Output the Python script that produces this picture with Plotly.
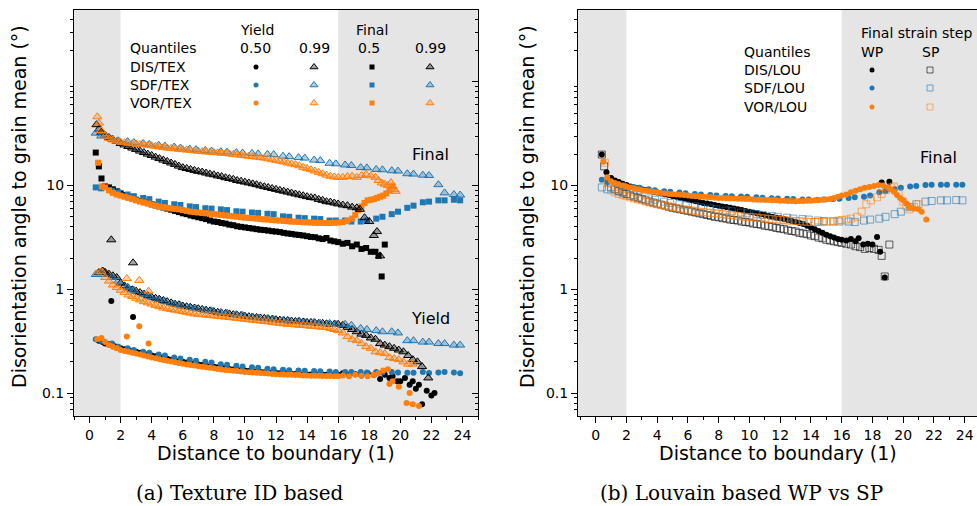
import plotly.graph_objects as go

W, H = 977, 506

# ---------------- data ----------------
DENSE_X = [1.0, 1.25, 1.5, 1.75, 2.0, 2.25, 2.5, 2.75,
           3.0, 3.25, 3.5, 3.75, 4.0, 4.25, 4.5, 4.75,
           5.0, 5.25, 5.5, 5.75, 6.0, 6.25, 6.5, 6.75,
           7.0, 7.25, 7.5, 7.75, 8.0, 8.25, 8.5, 8.75,
           9.0, 9.25, 9.5, 9.75, 10.0, 10.25, 10.5, 10.75,
           11.0, 11.25, 11.5, 11.75, 12.0, 12.25, 12.5, 12.75,
           13.0, 13.25, 13.5, 13.75, 14.0, 14.25, 14.5, 14.75,
           15.0, 15.25, 15.5, 15.75, 16.0]

SDF_X = [0.4, 0.75, 1.45, 1.85, 2.45, 2.85, 3.45, 3.85,
         4.45, 4.85, 5.45, 5.85, 6.45, 6.85, 7.45, 7.85,
         8.45, 8.85, 9.45, 9.85, 10.45, 10.85, 11.45, 11.85,
         12.45, 12.85, 13.45, 13.85, 14.45, 14.85, 15.45, 15.85,
         16.45, 16.85, 17.45, 17.85, 18.45, 18.85, 19.45, 19.85,
         20.45, 20.85, 21.45, 21.85, 22.45, 22.85, 23.45, 23.85]

# ---- (a) Texture ID based ----
# Final, 0.99 quantile
FIN99_DIS = [30.5, 29.0, 27.8, 26.7, 25.5, 24.6, 23.8, 23.0,
             22.3, 21.5, 20.8, 20.1, 19.5, 18.8, 18.2, 17.6,
             17.1, 16.5, 16.0, 15.4, 14.9, 14.6, 14.3, 14.0,
             13.7, 13.5, 13.2, 12.9, 12.7, 12.4, 12.2, 11.9,
             11.7, 11.5, 11.2, 11.0, 10.8, 10.6, 10.4, 10.2,
             9.95, 9.75, 9.57, 9.37, 9.19, 9.0, 8.83, 8.65,
             8.47, 8.3, 8.14, 7.98, 7.82, 7.66, 7.6, 7.36,
             7.21, 7.0, 6.93, 6.79, 6.65]
FIN99_DIS_EX_X = [0.45, 0.6, 0.75, 16.3, 16.6, 16.9, 17.2, 17.4, 17.7, 18.0, 18.3, 18.5, 18.7]
FIN99_DIS_EX_Y = [38.6, 35.0, 32.5, 6.5, 6.4, 6.2, 6.1, 5.9, 4.9, 4.5, 3.3, 3.6, 2.1]

FIN99_VOR = [30.0, 28.5, 27.5, 26.8, 26.3, 25.9, 25.6, 25.3,
             25.1, 24.9, 24.7, 24.5, 24.2, 23.9, 23.6, 23.3,
             23.0, 22.8, 22.6, 22.4, 22.2, 22.0, 21.8, 21.6,
             21.4, 21.3, 21.1, 21.0, 20.8, 20.7, 20.5, 20.4,
             20.2, 20.0, 19.8, 19.6, 19.4, 19.2, 19.0, 18.8,
             18.6, 18.4, 18.1, 17.8, 17.5, 17.2, 16.9, 16.5,
             16.2, 15.9, 15.5, 15.0, 14.6, 14.2, 13.8, 13.4,
             13.0, 12.6, 12.3, 12.1, 12.0]
FIN99_VOR_EX_X = [0.5, 0.6, 0.75, 16.3, 16.6, 16.9, 17.2, 17.5, 17.8, 18.1, 18.4, 18.6,
                  18.8, 19.0, 19.2, 19.4, 19.5, 19.6, 19.7]
FIN99_VOR_EX_Y = [46.0, 40.0, 34.0, 12.0, 12.2, 12.3, 12.0, 12.5, 12.8, 12.4, 12.0, 11.2,
                  10.6, 10.3, 10.0, 10.7, 9.8, 9.2, 8.8]

FIN99_SDF = [32.0, 30.0, 28.0, 27.0, 26.5, 26.0, 25.5, 25.0,
             24.5, 24.0, 23.5, 23.0, 22.5, 22.2, 21.8, 21.5,
             21.2, 21.0, 20.8, 20.6, 20.4, 20.2, 20.0, 19.9,
             19.2, 19.0, 18.6, 18.4, 17.6, 17.4, 16.4, 16.2,
             15.8, 15.6, 14.9, 14.8, 14.3, 14.2, 13.9, 13.8,
             13.0, 12.9, 12.6, 12.5, 10.2, 8.5, 8.2, 8.1]

# Final, 0.5 quantile
FIN50_DIS = [9.8, 9.6, 9.2, 8.8, 8.4, 8.1, 7.8, 7.5,
             7.3, 7.1, 6.95, 6.8, 6.6, 6.45, 6.3, 6.15,
             6.0, 5.85, 5.7, 5.55, 5.4, 5.3, 5.15, 5.05,
             4.95, 4.85, 4.75, 4.6, 4.5, 4.45, 4.35, 4.3,
             4.2, 4.15, 4.05, 4.0, 3.95, 3.9, 3.85, 3.8,
             3.75, 3.72, 3.68, 3.63, 3.6, 3.56, 3.5, 3.45,
             3.42, 3.37, 3.34, 3.3, 3.25, 3.2, 3.18, 3.1,
             3.05, 3.12, 2.95, 2.9, 2.85]
FIN50_DIS_EX_X = [0.4, 0.6, 0.77, 16.3, 16.6, 16.9, 17.2, 17.5, 17.8, 18.1, 18.4, 18.6, 18.8, 19.0]
FIN50_DIS_EX_Y = [20.8, 15.3, 11.7, 2.75, 2.8, 2.6, 2.7, 2.45, 2.5, 2.3, 2.3, 2.1, 1.33, 2.7]

FIN50_VOR = [9.6, 9.0, 8.5, 8.2, 8.0, 7.8, 7.6, 7.4,
             7.2, 7.0, 6.85, 6.7, 6.55, 6.4, 6.3, 6.2,
             6.1, 6.0, 5.95, 5.9, 5.8, 5.7, 5.6, 5.55,
             5.5, 5.45, 5.4, 5.35, 5.3, 5.25, 5.2, 5.15,
             5.1, 5.05, 5.0, 4.95, 4.9, 4.88, 4.85, 4.8,
             4.75, 4.72, 4.7, 4.65, 4.62, 4.6, 4.56, 4.53,
             4.5, 4.48, 4.46, 4.44, 4.42, 4.4, 4.38, 4.37,
             4.36, 4.35, 4.35, 4.38, 4.4]
FIN50_VOR_EX_X = [0.55, 0.8, 16.3, 16.6, 16.9, 17.1, 17.3, 17.5, 17.7, 17.9, 18.1, 18.3,
                  18.5, 18.7, 18.9, 19.1, 19.3, 19.5]
FIN50_VOR_EX_Y = [16.6, 9.8, 4.45, 4.6, 4.8, 5.2, 5.8, 6.3, 6.8, 7.2, 7.3, 7.4,
                  7.6, 7.8, 8.0, 8.4, 9.0, 9.8]

FIN50_SDF = [9.6, 9.4, 8.9, 8.6, 8.2, 7.9, 7.6, 7.4,
             7.0, 6.8, 6.6, 6.5, 6.3, 6.2, 6.05, 6.0,
             5.9, 5.8, 5.65, 5.6, 5.5, 5.45, 5.35, 5.3,
             5.05, 5.0, 4.9, 4.85, 4.8, 4.75, 4.6, 4.6,
             4.6, 4.5, 4.5, 4.6, 4.8, 5.0, 5.3, 5.6,
             6.1, 6.4, 6.9, 7.0, 7.2, 7.2, 7.3, 7.2]

# Yield, 0.99 quantile
Y99_DIS = [1.46, 1.4, 1.35, 1.3, 1.15, 1.08, 1.03, 0.99,
           0.96, 0.93, 0.9, 0.87, 0.84, 0.82, 0.8, 0.78,
           0.76, 0.74, 0.72, 0.71, 0.69, 0.68, 0.67, 0.66,
           0.65, 0.64, 0.63, 0.62, 0.61, 0.6, 0.59, 0.585,
           0.58, 0.57, 0.565, 0.56, 0.55, 0.545, 0.54, 0.535,
           0.53, 0.525, 0.52, 0.515, 0.51, 0.505, 0.5, 0.5,
           0.495, 0.49, 0.49, 0.485, 0.48, 0.48, 0.475, 0.47,
           0.47, 0.465, 0.46, 0.46, 0.46]
Y99_DIS_EX_X = [0.6, 0.85, 1.4, 2.8, 16.3, 16.6, 16.9, 17.2, 17.5, 17.8, 18.1, 18.4,
                18.7, 19.0, 19.3, 19.6, 19.9, 20.2, 20.5, 20.8, 21.1, 21.4, 21.8]
Y99_DIS_EX_Y = [1.45, 1.5, 3.0, 1.8, 0.45, 0.43, 0.41, 0.39, 0.37, 0.36, 0.34, 0.33,
                0.3, 0.29, 0.28, 0.27, 0.26, 0.25, 0.23, 0.21, 0.2, 0.18, 0.14]

Y99_VOR = [1.3, 1.2, 1.1, 1.04, 0.98, 0.93, 0.88, 0.85,
           0.82, 0.79, 0.76, 0.74, 0.72, 0.7, 0.68, 0.66,
           0.65, 0.64, 0.63, 0.62, 0.61, 0.6, 0.59, 0.58,
           0.575, 0.57, 0.565, 0.56, 0.555, 0.55, 0.545, 0.54,
           0.535, 0.53, 0.525, 0.52, 0.515, 0.51, 0.505, 0.5,
           0.495, 0.49, 0.485, 0.48, 0.475, 0.47, 0.465, 0.46,
           0.46, 0.455, 0.45, 0.45, 0.445, 0.44, 0.44, 0.435,
           0.43, 0.43, 0.42, 0.41, 0.4]
Y99_VOR_EX_X = [0.5, 0.77, 2.4, 3.2, 3.8, 16.3, 16.6, 16.9, 17.2, 17.5, 17.8, 18.1,
                18.4, 18.7, 19.0, 19.3, 19.6, 19.9, 20.2, 20.5, 20.8]
Y99_VOR_EX_Y = [1.42, 1.49, 1.27, 1.22, 0.96, 0.38, 0.35, 0.33, 0.32, 0.3, 0.28, 0.27,
                0.25, 0.245, 0.24, 0.22, 0.215, 0.21, 0.2, 0.19, 0.19]

Y99_SDF = [1.39, 1.39, 1.3, 1.2, 1.05, 0.98, 0.9, 0.85,
           0.8, 0.76, 0.72, 0.7, 0.67, 0.65, 0.63, 0.62,
           0.6, 0.59, 0.57, 0.56, 0.54, 0.53, 0.52, 0.51,
           0.5, 0.49, 0.49, 0.48, 0.48, 0.47, 0.47, 0.46,
           0.46, 0.45, 0.42, 0.41, 0.4, 0.39, 0.39, 0.38,
           0.32, 0.32, 0.31, 0.31, 0.3, 0.3, 0.29, 0.29]

# Yield, 0.50 quantile
Y50_DIS = [0.3, 0.295, 0.29, 0.28, 0.27, 0.265, 0.26, 0.255,
           0.25, 0.245, 0.24, 0.235, 0.23, 0.226, 0.222, 0.218,
           0.214, 0.21, 0.207, 0.204, 0.2, 0.197, 0.194, 0.191,
           0.188, 0.186, 0.183, 0.181, 0.179, 0.177, 0.175, 0.173,
           0.171, 0.169, 0.168, 0.166, 0.165, 0.163, 0.162, 0.161,
           0.16, 0.159, 0.158, 0.157, 0.156, 0.155, 0.155, 0.154,
           0.153, 0.153, 0.152, 0.152, 0.151, 0.151, 0.15, 0.15,
           0.15, 0.15, 0.149, 0.149, 0.15]
Y50_DIS_EX_X = [0.6, 0.85, 1.4, 2.8, 16.3, 16.7, 17.1, 17.5, 17.9, 18.3, 18.7, 19.0,
                19.3, 19.5, 19.8, 20.0, 20.3, 20.6, 20.8, 21.0, 21.2, 21.4, 21.7, 22.0, 22.2]
Y50_DIS_EX_Y = [0.32, 0.31, 0.77, 0.54, 0.155, 0.15, 0.152, 0.148, 0.155, 0.15, 0.137, 0.15,
                0.14, 0.145, 0.13, 0.13, 0.14, 0.12, 0.13, 0.11, 0.12, 0.078, 0.105, 0.095, 0.1]

Y50_VOR = [0.31, 0.29, 0.28, 0.27, 0.26, 0.255, 0.25, 0.245,
           0.24, 0.235, 0.23, 0.225, 0.22, 0.216, 0.212, 0.208,
           0.205, 0.201, 0.198, 0.195, 0.192, 0.189, 0.186, 0.184,
           0.181, 0.179, 0.177, 0.175, 0.173, 0.171, 0.169, 0.167,
           0.166, 0.164, 0.163, 0.161, 0.16, 0.159, 0.158, 0.157,
           0.156, 0.155, 0.154, 0.153, 0.152, 0.151, 0.151, 0.15,
           0.15, 0.149, 0.149, 0.148, 0.148, 0.147, 0.147, 0.147,
           0.146, 0.146, 0.146, 0.145, 0.145]
Y50_VOR_EX_X = [0.5, 0.77, 2.4, 3.2, 3.8, 16.3, 16.7, 17.1, 17.5, 17.9, 18.3, 18.6,
                18.9, 19.2, 19.3, 19.5, 19.9, 20.4, 20.6, 20.8, 21.2]
Y50_VOR_EX_Y = [0.33, 0.34, 0.35, 0.44, 0.30, 0.148, 0.145, 0.15, 0.147, 0.145, 0.15, 0.155,
                0.165, 0.17, 0.122, 0.13, 0.115, 0.08, 0.1, 0.078, 0.075]

Y50_SDF = [0.33, 0.32, 0.3, 0.28, 0.27, 0.26, 0.25, 0.245,
           0.235, 0.23, 0.22, 0.215, 0.21, 0.205, 0.2, 0.197,
           0.19, 0.187, 0.183, 0.18, 0.177, 0.175, 0.172, 0.17,
           0.168, 0.166, 0.165, 0.164, 0.163, 0.162, 0.161, 0.16,
           0.16, 0.16, 0.16, 0.158, 0.16, 0.158, 0.16, 0.158,
           0.157, 0.157, 0.16, 0.156, 0.158, 0.16, 0.158, 0.155]

# ---- (b) Louvain based, WP vs SP (final strain step) ----
WP_DIS = [11.8, 11.2, 10.8, 10.4, 10.1, 9.8, 9.6, 9.4,
          9.2, 9.0, 8.85, 8.7, 8.55, 8.4, 8.25, 8.1,
          7.95, 7.8, 7.65, 7.5, 7.35, 7.2, 7.05, 6.9,
          6.8, 6.7, 6.6, 6.5, 6.4, 6.3, 6.2, 6.1,
          6.0, 5.9, 5.8, 5.7, 5.6, 5.5, 5.4, 5.3,
          5.2, 5.1, 5.0, 4.9, 4.85, 4.75, 4.65, 4.55,
          4.45, 4.35, 4.25, 4.1, 3.95, 3.8, 3.65, 3.5,
          3.35, 3.25, 3.15, 3.05, 3.0]
WP_DIS_EX_X = [0.4, 0.7, 16.3, 16.6, 16.9, 17.1, 17.4, 17.7, 18.0, 18.3, 18.5, 18.6, 18.8, 19.1]
WP_DIS_EX_Y = [19.9, 13.4, 2.95, 3.05, 2.9, 3.1, 2.7, 2.75, 2.7, 3.2, 2.3, 10.7, 1.3, 10.9]

SP_DIS = [9.6, 9.2, 8.9, 8.6, 8.3, 8.0, 7.8, 7.6,
          7.4, 7.2, 7.0, 6.85, 6.7, 6.55, 6.4, 6.25,
          6.1, 6.0, 5.9, 5.8, 5.7, 5.6, 5.5, 5.4,
          5.3, 5.2, 5.1, 5.0, 4.95, 4.85, 4.8, 4.7,
          4.65, 4.6, 4.5, 4.45, 4.4, 4.3, 4.25, 4.2,
          4.1, 4.05, 4.0, 3.9, 3.85, 3.8, 3.7, 3.65,
          3.6, 3.5, 3.45, 3.4, 3.3, 3.25, 3.15, 3.1,
          3.0, 2.95, 2.9, 2.85, 2.8]
SP_DIS_EX_X = [0.4, 0.55, 16.3, 16.6, 16.9, 17.2, 17.5, 17.8, 18.1, 18.4, 18.6, 18.8, 19.1]
SP_DIS_EX_Y = [19.9, 15.3, 2.75, 2.7, 2.6, 2.55, 2.45, 2.5, 2.45, 2.4, 2.1, 1.33, 2.7]

WP_SDF = [11.4, 10.8, 10.3, 10.0, 9.7, 9.5, 9.2, 9.0,
          8.8, 8.7, 8.55, 8.45, 8.3, 8.2, 8.1, 8.0,
          7.95, 7.9, 7.85, 7.8, 7.7, 7.65, 7.55, 7.5,
          7.45, 7.4, 7.35, 7.35, 7.3, 7.35, 7.4, 7.45,
          7.6, 7.7, 7.8, 8.0, 8.6, 8.8, 9.2, 9.5,
          9.8, 9.9, 10.1, 10.2, 10.2, 10.2, 10.2, 10.2]

SP_SDF = [9.6, 9.2, 8.8, 8.5, 8.1, 7.8, 7.5, 7.3,
          7.0, 6.8, 6.6, 6.45, 6.3, 6.15, 6.0, 5.9,
          5.75, 5.65, 5.5, 5.4, 5.3, 5.2, 5.1, 5.0,
          4.9, 4.8, 4.75, 4.7, 4.6, 4.55, 4.5, 4.5,
          4.5, 4.45, 4.6, 4.7, 4.8, 5.0, 5.3, 5.6,
          6.2, 6.6, 7.0, 7.1, 7.2, 7.2, 7.25, 7.2]

WP_VOR = [11.0, 10.6, 10.3, 10.0, 9.8, 9.6, 9.4, 9.2,
          9.05, 8.9, 8.8, 8.7, 8.6, 8.5, 8.4, 8.3,
          8.25, 8.2, 8.15, 8.1, 8.0, 7.95, 7.9, 7.85,
          7.8, 7.75, 7.7, 7.65, 7.6, 7.6, 7.55, 7.5,
          7.5, 7.45, 7.45, 7.4, 7.4, 7.35, 7.3, 7.3,
          7.25, 7.25, 7.2, 7.2, 7.15, 7.15, 7.1, 7.1,
          7.05, 7.1, 7.1, 7.15, 7.15, 7.2, 7.25, 7.3,
          7.35, 7.4, 7.6, 7.8, 8.0]
WP_VOR_EX_X = [0.5, 0.75, 16.3, 16.6, 16.9, 17.2, 17.5, 17.8, 18.1, 18.4, 18.7, 19.0,
               19.2, 19.4, 19.6, 19.8, 20.0, 20.2, 20.4, 20.7, 21.0, 21.2, 21.5]
WP_VOR_EX_Y = [17.0, 12.0, 8.2, 8.6, 8.9, 9.2, 9.5, 9.7, 9.9, 10.1, 10.0, 9.6,
               9.2, 8.7, 8.1, 7.6, 7.2, 6.7, 6.2, 6.0, 5.9, 5.6, 4.7]

SP_VOR = [9.0, 8.6, 8.3, 8.1, 7.9, 7.7, 7.5, 7.35,
          7.2, 7.05, 6.9, 6.75, 6.6, 6.5, 6.4, 6.3,
          6.2, 6.1, 6.0, 5.9, 5.8, 5.75, 5.7, 5.6,
          5.55, 5.5, 5.45, 5.4, 5.35, 5.3, 5.25, 5.2,
          5.15, 5.1, 5.05, 5.0, 4.98, 4.95, 4.9, 4.85,
          4.8, 4.78, 4.75, 4.7, 4.68, 4.65, 4.6, 4.58,
          4.55, 4.52, 4.5, 4.48, 4.46, 4.45, 4.45, 4.45,
          4.5, 4.5, 4.55, 4.6, 4.65]
SP_VOR_EX_X = [0.6, 0.8, 16.3, 16.6, 17.0, 17.3, 17.6, 17.9, 18.3, 18.6, 18.9, 19.2,
               19.4, 19.7, 20.0, 20.2, 20.4, 20.7, 21.0]
SP_VOR_EX_Y = [16.6, 10.5, 4.7, 4.8, 5.0, 5.6, 6.6, 7.2, 7.7, 8.3, 9.1, 9.6,
               9.8, 8.5, 7.0, 6.3, 5.9, 6.2, 6.6]

X_TICKS = [0, 2, 4, 6, 8, 10, 12, 14, 16, 18, 20, 22, 24]
Y_TICKS = [0.1, 1, 10]
Y_TICK_TEXT = ["0.1", "1", "10"]

# ---------------- style ----------------
BLACK = "#000000"
BLUE = "#1f77b4"
ORANGE = "#ff7f0e"
GREY_BG = "#e5e5e5"
FONT = "DejaVu Sans"


def rgba(hexc, a):
    h = hexc.lstrip("#")
    r, g, b = int(h[0:2], 16), int(h[2:4], 16), int(h[4:6], 16)
    return f"rgba({r},{g},{b},{a})"


def style(kind, c):
    if kind == "circle":
        return dict(symbol="circle", size=6, color=c, line=dict(width=0))
    if kind == "square":
        return dict(symbol="square", size=6, color=c, line=dict(width=0))
    if kind == "tri":
        return dict(symbol="triangle-up", size=8, color=rgba(c, 0.35),
                    line=dict(width=1, color=c))
    if kind == "osquare":
        return dict(symbol="square-open", size=7, color=rgba(c, 0.6),
                    line=dict(width=1, color=rgba(c, 0.6)))


fig = go.Figure()


def add(xa, ya, x, y, kind, c):
    fig.add_trace(go.Scatter(x=x, y=y, mode="markers", xaxis=xa, yaxis=ya,
                             marker=style(kind, c), showlegend=False,
                             hoverinfo="skip", cliponaxis=True))


# panel (a)
add("x", "y", DENSE_X + Y50_DIS_EX_X, Y50_DIS + Y50_DIS_EX_Y, "circle", BLACK)
add("x", "y", SDF_X, Y50_SDF, "circle", BLUE)
add("x", "y", DENSE_X + Y50_VOR_EX_X, Y50_VOR + Y50_VOR_EX_Y, "circle", ORANGE)
add("x", "y", DENSE_X + Y99_DIS_EX_X, Y99_DIS + Y99_DIS_EX_Y, "tri", BLACK)
add("x", "y", SDF_X, Y99_SDF, "tri", BLUE)
add("x", "y", DENSE_X + Y99_VOR_EX_X, Y99_VOR + Y99_VOR_EX_Y, "tri", ORANGE)
add("x", "y", DENSE_X + FIN50_DIS_EX_X, FIN50_DIS + FIN50_DIS_EX_Y, "square", BLACK)
add("x", "y", SDF_X, FIN50_SDF, "square", BLUE)
add("x", "y", DENSE_X + FIN50_VOR_EX_X, FIN50_VOR + FIN50_VOR_EX_Y, "square", ORANGE)
add("x", "y", DENSE_X + FIN99_DIS_EX_X, FIN99_DIS + FIN99_DIS_EX_Y, "tri", BLACK)
add("x", "y", SDF_X, FIN99_SDF, "tri", BLUE)
add("x", "y", DENSE_X + FIN99_VOR_EX_X, FIN99_VOR + FIN99_VOR_EX_Y, "tri", ORANGE)

# panel (b)
add("x2", "y2", DENSE_X + WP_DIS_EX_X, WP_DIS + WP_DIS_EX_Y, "circle", BLACK)
add("x2", "y2", DENSE_X + SP_DIS_EX_X, SP_DIS + SP_DIS_EX_Y, "osquare", BLACK)
add("x2", "y2", SDF_X, WP_SDF, "circle", BLUE)
add("x2", "y2", SDF_X, SP_SDF, "osquare", BLUE)
add("x2", "y2", DENSE_X + WP_VOR_EX_X, WP_VOR + WP_VOR_EX_Y, "circle", ORANGE)
add("x2", "y2", DENSE_X + SP_VOR_EX_X, SP_VOR + SP_VOR_EX_Y, "osquare", ORANGE)

# invisible trace to activate right-hand tick axis of panel (a)
fig.add_trace(go.Scatter(x=[None], y=[None], xaxis="x", yaxis="y3", mode="markers",
                         showlegend=False, hoverinfo="skip"))

# ---------------- legend tables (drawn on a full-figure pixel overlay) ----------------
LEG_A_COLS = [256, 314, 372, 430]
LEG_A_KINDS = ["circle", "tri", "square", "tri"]
LEG_A_ROWS = [67, 85, 103]
LEG_B_COLS = [872, 930]
LEG_B_KINDS = ["circle", "osquare"]
LEG_B_ROWS = [70, 88, 107]
ROW_COLORS = [BLACK, BLUE, ORANGE]

for ry, c in zip(LEG_A_ROWS, ROW_COLORS):
    for cx, k in zip(LEG_A_COLS, LEG_A_KINDS):
        m = style(k, c)
        m["size"] = m["size"] - 1
        fig.add_trace(go.Scatter(x=[cx], y=[ry], xaxis="x4", yaxis="y4", mode="markers",
                                 marker=m, showlegend=False, hoverinfo="skip"))
for ry, c in zip(LEG_B_ROWS, ROW_COLORS):
    for cx, k in zip(LEG_B_COLS, LEG_B_KINDS):
        m = style(k, c)
        m["size"] = m["size"] - 1
        fig.add_trace(go.Scatter(x=[cx], y=[ry], xaxis="x4", yaxis="y4", mode="markers",
                                 marker=m, showlegend=False, hoverinfo="skip"))


def px(v):
    return v / W


def py(v):
    return 1 - v / H


ann = []


def text(t, x, y, size=14, xanchor="center", family=FONT, angle=0):
    ann.append(dict(text=t, x=px(x), y=py(y), xref="paper", yref="paper",
                    xanchor=xanchor, yanchor="middle", showarrow=False,
                    textangle=angle, font=dict(family=family, size=size, color="black")))


# legend (a)
text("Yield", 257, 30)
text("Final", 372, 30)
text("Quantiles", 128, 48, xanchor="left")
for t, x in zip(["0.50", "0.99", "0.5", "0.99"], [255, 314, 369, 430]):
    text(t, x, 48)
for t, y in zip(["DIS/TEX", "SDF/TEX", "VOR/TEX"], LEG_A_ROWS):
    text(t, 128, y, xanchor="left")
# legend (b)
text("Final strain step", 916, 33)
text("Quantiles", 742, 52, xanchor="left")
text("WP", 872, 52)
text("SP", 930, 52)
for t, y in zip(["DIS/LOU", "SDF/LOU", "VOR/LOU"], LEG_B_ROWS):
    text(t, 742, y, xanchor="left")
# in-plot labels
text("Final", 430, 154, size=16)
text("Yield", 430, 318, size=16)
text("Final", 938, 157, size=16)
# axis titles
text("Disorientation angle to grain mean (°)", 19, 207, size=19, angle=-90)
text("Disorientation angle to grain mean (°)", 527, 207, size=19, angle=-90)
text("Distance to boundary (1)", 276, 453, size=19)
text("Distance to boundary (1)", 778, 453, size=19)
# captions
text("(a) Texture ID based", 240, 493, size=20, family="DejaVu Serif")
text("(b) Louvain based WP vs SP", 741, 493, size=20, family="DejaVu Serif")

# ---------------- shading ----------------
SHADE_LO, SHADE_HI = 2, 16
shapes = []
for xr, lo, hi in [("x", -1, 25), ("x2", -1.15, 24.8)]:
    for a, b in [(lo, SHADE_LO), (SHADE_HI, hi)]:
        shapes.append(dict(type="rect", xref=xr, yref=("y" if xr == "x" else "y2") + " domain",
                           x0=a, x1=b, y0=0, y1=1, fillcolor=GREY_BG,
                           line=dict(width=0), layer="below"))

# ---------------- axes ----------------
Y_DOM = [1 - 416 / H, 1 - 10 / H]
Y_RANGE = [-1.221, 2.692]
MINOR_Y = [0.07, 0.08, 0.09, 0.2, 0.3, 0.4, 0.5, 0.6, 0.7, 0.8, 0.9,
           2, 3, 4, 5, 6, 7, 8, 9, 20, 30, 40, 50, 60, 70, 80, 90, 200, 300, 400]
tickfont = dict(family=FONT, size=14, color="black")


def xax(dom, rng, anchor):
    return dict(domain=dom, range=rng, anchor=anchor, tickmode="array", tickvals=X_TICKS,
                ticks="outside", ticklen=6, tickwidth=1, tickcolor="black",
                minor=dict(ticks="outside", ticklen=3, tickwidth=1, tickcolor="black",
                           dtick=1, tick0=0, showgrid=False),
                showline=True, linecolor="black", linewidth=1, mirror=True,
                showgrid=False, zeroline=False, tickfont=tickfont, fixedrange=True)


def yax(anchor):
    return dict(domain=Y_DOM, type="log", range=Y_RANGE, anchor=anchor,
                tickmode="array", tickvals=Y_TICKS, ticktext=Y_TICK_TEXT,
                ticks="outside", ticklen=6, tickwidth=1, tickcolor="black",
                minor=dict(ticks="outside", ticklen=3, tickwidth=1, tickcolor="black",
                           tickmode="array", tickvals=MINOR_Y, showgrid=False),
                showline=True, linecolor="black", linewidth=1, mirror=True,
                showgrid=False, zeroline=False, tickfont=tickfont, fixedrange=True)


fig.update_layout(
    width=W, height=H, margin=dict(l=0, r=0, t=0, b=0),
    paper_bgcolor="white", plot_bgcolor="rgba(0,0,0,0)",
    xaxis=xax([74 / W, 478 / W], [-1, 25], "y"),
    yaxis=yax("x"),
    xaxis2=xax([578 / W, 1.0], [-1.15, 24.8], "y2"),
    yaxis2=yax("x2"),
    yaxis3=dict(overlaying="y", side="right", anchor="x", type="log", range=Y_RANGE,
                tickmode="array", tickvals=[0.1, 1, 10, 100], showticklabels=False,
                ticks="inside", ticklen=6, tickcolor="black",
                minor=dict(ticks="inside", ticklen=3, tickcolor="black",
                           tickmode="array", tickvals=MINOR_Y, showgrid=False),
                showline=False, showgrid=False, zeroline=False, fixedrange=True),
    xaxis4=dict(domain=[0, 1], range=[0, W], anchor="y4", visible=False, fixedrange=True),
    yaxis4=dict(domain=[0, 1], range=[H, 0], anchor="x4", visible=False, fixedrange=True),
    shapes=shapes, annotations=ann, showlegend=False,
)

fig.write_html("out.html", config={"displayModeBar": False},
               post_script="document.body.style.margin='0';document.body.style.overflow='hidden';")
